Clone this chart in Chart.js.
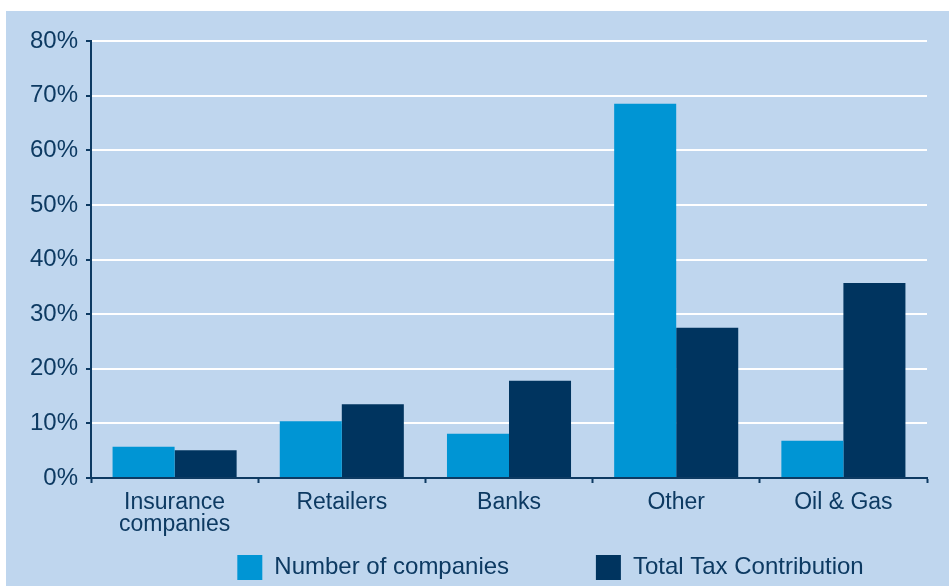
<!DOCTYPE html>
<html lang="en">
<head>
  <meta charset="UTF-8">
  <title>Total Tax Contribution by sector</title>
  <style>
    html, body {
      margin: 0;
      padding: 0;
      background: #ffffff;
      overflow: hidden;
    }
    .panel {
      position: absolute;
      left: 6px;
      top: 11px;
      width: 943px;
      height: 585px;
      background: #bfd6ee;
    }
  </style>
</head>
<body>

  <div class="panel">
    <canvas id="taxChart" width="943" height="585"></canvas>
  </div>

  <script src="https://cdn.jsdelivr.net/npm/chart.js@4.4.1/dist/chart.umd.min.js"></script>

  <script>
    // Sectors and shares (in %)
    const sectors = [["Insurance", "companies"], "Retailers", "Banks", "Other", "Oil & Gas"];
    const companiesShare = [5.7, 10.4, 8.1, 68.5, 6.8];
    const taxShare = [5.1, 13.5, 17.8, 27.5, 35.7];
    const yTicks = [0, 10, 20, 30, 40, 50, 60, 70, 80];

    const navy = "#0d3a62";
    const fontFamily = "'Liberation Sans', Arial, sans-serif";

    // Moves the legend row to the right, under the bars
    const legendShift = {
      id: "legendShift",
      afterLayout(chart) {
        chart.legend.left += 84;
        chart.legend.right += 84;
      }
    };

    const ctx = document.getElementById("taxChart").getContext("2d");
    new Chart(ctx, {
      type: "bar",
      data: {
        labels: sectors,
        datasets: [
          {
            label: "Number of companies",
            data: companiesShare,
            backgroundColor: "#0095d4",
            categoryPercentage: 0.742,
            barPercentage: 1.0
          },
          {
            label: "Total Tax Contribution",
            data: taxShare,
            backgroundColor: "#00345f",
            categoryPercentage: 0.742,
            barPercentage: 1.0
          }
        ]
      },
      options: {
        responsive: false,
        animation: false,
        layout: { padding: { top: 30, right: 22, left: 0, bottom: 6 } },
        scales: {
          x: {
            grid: {
              drawOnChartArea: false,
              tickLength: 5,
              tickColor: navy,
              tickWidth: 2
            },
            border: { color: navy, width: 2 },
            ticks: {
              color: navy,
              padding: 9,
              font: { family: fontFamily, size: 23, lineHeight: 0.95 },
              maxRotation: 0
            },
            afterFit(scale) { scale.height = 67; }
          },
          y: {
            min: 0,
            max: 80,
            afterBuildTicks(scale) {
              scale.ticks = yTicks.map(v => ({ value: v }));
            },
            grid: {
              color: c => (c.tick && c.tick.value === 0 ? "rgba(0,0,0,0)" : "#ffffff"),
              lineWidth: 2,
              tickLength: 5,
              tickColor: navy,
              tickWidth: 2
            },
            border: { color: navy, width: 2 },
            ticks: {
              color: navy,
              padding: 8,
              font: { family: fontFamily, size: 24 },
              callback: v => v + "%"
            },
            afterFit(scale) { scale.width = 85; }
          }
        },
        plugins: {
          legend: {
            position: "bottom",
            labels: {
              color: navy,
              boxWidth: 25,
              boxHeight: 25,
              padding: 10,
              font: { family: fontFamily, size: 24 },
              // wider gap after the first entry
              generateLabels(chart) {
                const items = Chart.defaults.plugins.legend.labels.generateLabels(chart);
                items[0].text += "\u2003\u2003\u2003\u2009";
                return items;
              }
            }
          },
          tooltip: { enabled: false }
        }
      },
      plugins: [legendShift]
    });
  </script>
</body>
</html>
